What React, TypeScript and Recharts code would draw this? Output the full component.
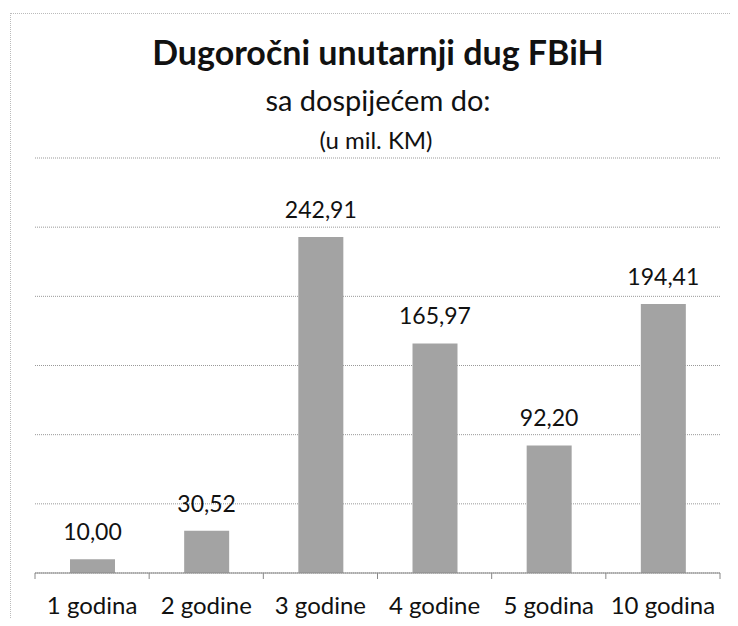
import { BarChart, Bar, XAxis, YAxis, CartesianGrid, LabelList } from 'recharts';

const categories = ['1 godina', '2 godine', '3 godine', '4 godine', '5 godina', '10 godina'];
const values = [10.0, 30.52, 242.91, 165.97, 92.2, 194.41];
const yTicks = [0, 50, 100, 150, 200, 250, 300];

const data = categories.map((name, i) => ({ name, value: values[i] }));

const font = 'Lato, "Open Sans", sans-serif';
const TICK_SIZE = 6;
const TICK_MARGIN = 18;

const fmt = (v: any) => Number(v).toFixed(2).replace('.', ',');

// category tick with tick marks at the band edges (Excel style)
function EdgeTick(props: any) {
  const { x, y, payload, index } = props;
  const half = payload?.offset ?? 0;
  const axisY = y - TICK_SIZE - TICK_MARGIN;
  const last = index === categories.length - 1;
  return (
    <g>
      <line x1={x - half} y1={axisY} x2={x - half} y2={axisY + TICK_SIZE} stroke="#888" />
      {last && <line x1={x + half} y1={axisY} x2={x + half} y2={axisY + TICK_SIZE} stroke="#888" />}
      <text x={x} y={y} dy="0.71em" textAnchor="middle" fill="#111" fontSize={24} fontFamily={font}>
        {payload.value}
      </text>
    </g>
  );
}

export default function App() {
  return (
    <div style={{ position: 'relative', width: 738, height: 626, margin: -8, background: '#fff', fontFamily: font, overflow: 'hidden' }}>
      {/* scanned frame edges */}
      <div style={{ position: 'absolute', left: 10, top: 13, right: 0, bottom: 0, borderLeft: '1px dotted #bbb', borderTop: '1px dotted #bbb' }} />
      <svg width={738} height={160} style={{ position: 'absolute', left: 0, top: 0 }}>
        <text x={378} y={65} textAnchor="middle" fontFamily={font} fontWeight={700} fontSize={34} fill="#111">
          Dugoročni unutarnji dug FBiH
        </text>
        <text x={378} y={111} textAnchor="middle" fontFamily={font} fontSize={29} fill="#111">
          sa dospijećem do:
        </text>
        <text x={376} y={149} textAnchor="middle" fontFamily={font} fontSize={24} fill="#111">
          (u mil. KM)
        </text>
      </svg>
      <div style={{ position: 'absolute', left: 0, top: 0 }}>
        <BarChart width={738} height={626} data={data} margin={{ top: 158, right: 18, left: 35, bottom: 0 }}>
          <CartesianGrid vertical={false} stroke="#999" strokeDasharray="1 1" />
          <XAxis
            dataKey="name"
            height={53}
            stroke="#888"
            tickLine={false}
            tickSize={TICK_SIZE}
            tickMargin={TICK_MARGIN}
            tick={<EdgeTick />}
            interval={0}
          />
          <YAxis hide domain={[0, 300]} ticks={yTicks} />
          <Bar dataKey="value" fill="#a3a3a3" barSize={45} isAnimationActive={false}>
            <LabelList dataKey="value" position="top" offset={19} formatter={fmt} style={{ fill: '#111', fontSize: 23, fontFamily: font }} />
          </Bar>
        </BarChart>
      </div>
    </div>
  );
}
